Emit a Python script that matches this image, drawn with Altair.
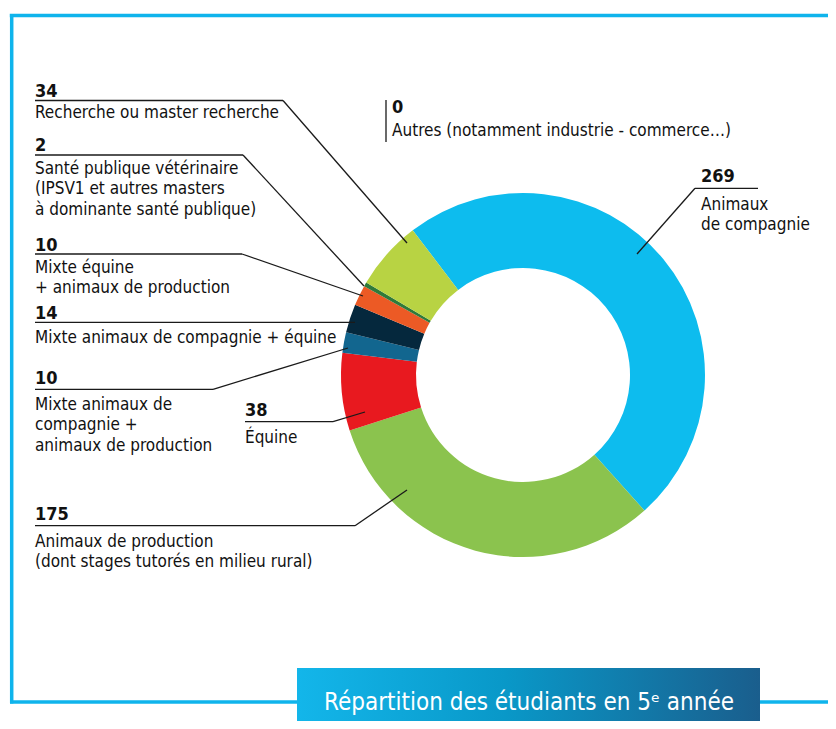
import math
import altair as alt
import pandas as pd

# ---------------- data ----------------
categories = [
    "Animaux de compagnie",
    "Animaux de production",
    "Équine",
    "Mixte animaux de compagnie + animaux de production",
    "Mixte animaux de compagnie + équine",
    "Mixte équine + animaux de production",
    "Santé publique vétérinaire",
    "Recherche ou master recherche",
    "Autres",
]
values = [269, 175, 38, 10, 14, 10, 2, 34, 0]
colors = ["#0dbcee", "#8bc34e", "#e8191f", "#12668f", "#05283d", "#ec5a25", "#2f7a3a", "#b8d343", "#888888"]

label_lines = [
    ["Animaux", "de compagnie"],
    ["Animaux de production", "(dont stages tutorés en milieu rural)"],
    ["Équine"],
    ["Mixte animaux de", "compagnie +", "animaux de production"],
    ["Mixte animaux de compagnie + équine"],
    ["Mixte équine", "+ animaux de production"],
    ["Santé publique vétérinaire", "(IPSV1 et autres masters", "à dominante santé publique)"],
    ["Recherche ou master recherche"],
    ["Autres (notamment industrie - commerce…)"],
]
title_text = "Répartition des étudiants en 5ᵉ année"

# ---------------- layout (page pixel coordinates) ----------------
layout = [
    dict(nx=701, ny=182, ly=210, ul=(695, 758, 188.3), lead=((695, 188.3), (637, 254))),
    dict(nx=35, ny=520, ly=546.5, ul=(35, 355, 525.7), lead=((355, 525.7), (407, 490))),
    dict(nx=245, ny=416, ly=442.5, ul=(245, 333, 421.7), lead=((333, 421.7), (365, 412))),
    dict(nx=35, ny=383.5, ly=410, ul=(35, 213, 389.3), lead=((213, 389.3), (348, 348))),
    dict(nx=35, ny=318.5, ly=342.5, ul=(35, 355, 322.3), lead=None),
    dict(nx=35, ny=250.5, ly=272.5, ul=(35, 242, 254), lead=((242, 254), (363, 296))),
    dict(nx=35, ny=150.5, ly=174, ul=(35, 243, 155), lead=((243, 155), (364, 286))),
    dict(nx=35, ny=97, ly=117.5, ul=(35, 283, 100.5), lead=((283, 100.5), (407, 243))),
    dict(nx=392, ny=113, ly=136, ul=None, lead=None, bar=(386, 100, 142)),
]
LINE_H = 20.3
W, H = 820, 713
CX, CY = 523, 375          # donut centre (page)
R_OUT, R_IN = 182, 107
START = 2 * math.pi - math.radians(37.3)

FONT = "DejaVu Sans Condensed, Liberation Sans Narrow, sans-serif"

XS = alt.Scale(domain=[8, 8 + W], nice=False, zero=False)
YS = alt.Scale(domain=[8 + H, 8], nice=False, zero=False)

# ---------------- donut ----------------
donut_df = pd.DataFrame({"cat": categories, "val": values, "idx": list(range(len(values)))})
donut = alt.Chart(donut_df).mark_arc(innerRadius=R_IN, outerRadius=R_OUT).encode(
    theta=alt.Theta("val:Q", stack=True, scale=alt.Scale(range=[START, START + 2 * math.pi])),
    order=alt.Order("idx:Q"),
    color=alt.Color("cat:N", scale=alt.Scale(domain=categories, range=colors), legend=None),
    x=alt.value(CX - 8),
    y=alt.value(CY - 8),
)

# ---------------- texts ----------------
num_rows, lab_rows, seg_rows = [], [], []
for v, lines, lay in zip(values, label_lines, layout):
    num_rows.append({"x": lay["nx"], "y": lay["ny"], "t": str(v)})
    for i, ln in enumerate(lines):
        lab_rows.append({"x": lay["nx"], "y": lay["ly"] + i * LINE_H, "t": ln})
    if lay.get("ul"):
        x1, x2, yy = lay["ul"]
        seg_rows.append({"x": x1, "y": yy, "x2": x2, "y2": yy})
    if lay.get("lead"):
        (a, b), (c, d) = lay["lead"]
        seg_rows.append({"x": a, "y": b, "x2": c, "y2": d})
    if lay.get("bar"):
        bx, by1, by2 = lay["bar"]
        seg_rows.append({"x": bx, "y": by1, "x2": bx, "y2": by2})

nums = alt.Chart(pd.DataFrame(num_rows)).mark_text(
    align="left", baseline="alphabetic", font=FONT, fontSize=18, fontWeight="bold", color="#111111"
).encode(x=alt.X("x:Q", scale=XS, axis=None), y=alt.Y("y:Q", scale=YS, axis=None), text="t:N")

labs = alt.Chart(pd.DataFrame(lab_rows)).mark_text(
    align="left", baseline="alphabetic", font=FONT, fontSize=17, color="#111111"
).encode(x=alt.X("x:Q", scale=XS, axis=None), y=alt.Y("y:Q", scale=YS, axis=None), text="t:N")

segs = alt.Chart(pd.DataFrame(seg_rows)).mark_rule(color="#1a1a1a", strokeWidth=1.3).encode(
    x=alt.X("x:Q", scale=XS, axis=None), y=alt.Y("y:Q", scale=YS, axis=None), x2="x2:Q", y2="y2:Q"
)

# ---------------- frame & title box ----------------
frame_df = pd.DataFrame([
    {"x": 9.8, "y": 15.5, "x2": 845, "y2": 15.5},
    {"x": 11.7, "y": 14, "x2": 11.7, "y2": 703.5},
    {"x": 10, "y": 702, "x2": 300, "y2": 702},
    {"x": 757, "y": 702, "x2": 845, "y2": 702},
])
frame = alt.Chart(frame_df).mark_rule(color="#0fb4ec", strokeWidth=3.5).encode(
    x=alt.X("x:Q", scale=XS, axis=None), y=alt.Y("y:Q", scale=YS, axis=None), x2="x2:Q", y2="y2:Q"
)

box_df = pd.DataFrame([{"x": 297, "x2": 760, "y": 668, "y2": 735}])
grad = alt.LinearGradient(
    gradient="linear",
    stops=[
        alt.GradientStop(color="#13b6ea", offset=0),
        alt.GradientStop(color="#0998c8", offset=0.45),
        alt.GradientStop(color="#1a5e8d", offset=1),
    ],
    x1=0, x2=1, y1=0, y2=0,
)
box = alt.Chart(box_df).mark_rect(fill=grad).encode(
    x=alt.X("x:Q", scale=XS, axis=None), y=alt.Y("y:Q", scale=YS, axis=None), x2="x2:Q", y2="y2:Q"
)
title = alt.Chart(pd.DataFrame([{"x": 324, "y": 710, "t": title_text}])).mark_text(
    align="left", baseline="alphabetic", font=FONT, fontSize=24, color="white"
).encode(x=alt.X("x:Q", scale=XS, axis=None), y=alt.Y("y:Q", scale=YS, axis=None), text="t:N")

chart = alt.layer(frame, box, title, donut, segs, nums, labs).properties(
    width=W, height=H, padding=0, background="white",
    autosize=alt.AutoSizeParams(type="none"),
).configure_view(stroke=None)

chart.save("out.html", embed_options={"renderer": "svg", "actions": False})
